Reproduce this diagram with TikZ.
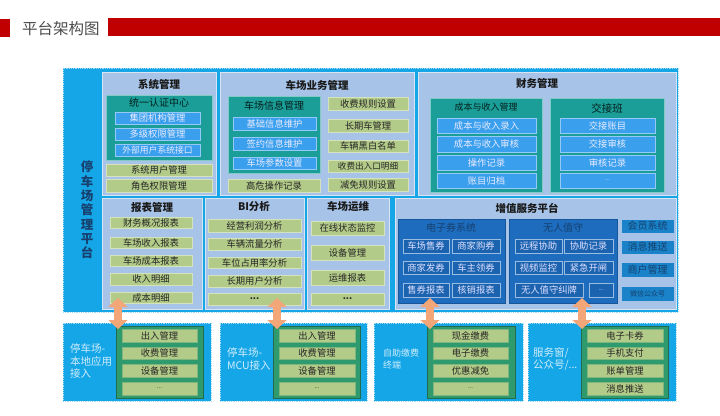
\documentclass[tikz,border=0pt]{standalone}
\usepackage{fontspec}
\setmainfont{Noto Sans CJK SC}
\usetikzlibrary{arrows.meta}
\definecolor{skyb}{HTML}{15A6E8}
\definecolor{panel}{HTML}{A7C3E7}
\definecolor{teal1}{HTML}{1B9E98}
\definecolor{bitem}{HTML}{3AA0EE}
\definecolor{gitem}{HTML}{B3CB88}
\definecolor{dblue}{HTML}{1D6CBE}
\definecolor{navy}{HTML}{17406F}
\definecolor{gteal}{HTML}{2E9A6E}
\definecolor{arr}{HTML}{F3A678}
\definecolor{redb}{HTML}{C00000}
\newcommand\bx[7]{\node[base,#2,minimum width={(#5-#3)*1pt},minimum height={(#6-#4)*1pt}] (#1) at ({(#3+#5)/2},{(#4+#6)/2}) {#7};}
\tikzset{
  base/.style={rectangle,inner sep=0pt,outer sep=0pt},
  itemfont/.style={font=\fontsize{9.3}{10}\selectfont},
  panelbox/.style={fill=panel,draw=white!55!panel,line width=0.6pt},
  ptitle/.style={base,font=\bfseries\fontsize{10.5}{12}\selectfont,text=black!90},
  ttitle/.style={base,font=\fontsize{10}{12}\selectfont,text=black!80!teal1},
  tealbox/.style={fill=teal1,draw=white!45!teal1,line width=0.6pt},
  bluebox/.style={fill=bitem,draw=white!45!bitem,line width=0.5pt,text=white!92!blue,itemfont},
  greenbox/.style={fill=gitem,draw=white!45!gitem,line width=0.5pt,text=black!85,itemfont},
  dkbox/.style={fill=dblue,draw=dblue!80!black,line width=0.5pt},
  dktitle/.style={base,font=\fontsize{10}{12}\selectfont,text=navy},
  dkbtn/.style={fill=dblue!92!black,draw=white!55!dblue,line width=0.5pt,text=white!88!blue,itemfont},
  rcol/.style={fill=dblue!85!cyan,draw=dblue!85!cyan,text=navy,font=\fontsize{10}{12}\selectfont},
  skybox/.style={fill=skyb,draw=white!60!skyb,line width=0.8pt,densely dotted},
  gcont/.style={fill=gteal,draw=gteal!70!black,line width=0.6pt},
  gitembox/.style={fill=gitem,draw=gitem!60!gteal,line width=0.6pt,text=black!85,itemfont},
  blabel/.style={base,anchor=west,align=left,text=white!80!skyb,font=\fontsize{10.5}{12.5}\selectfont},
  fatarr/.style={draw=arr,line width=8pt,{Triangle[width=19pt,length=9pt]}-{Triangle[width=19pt,length=9pt]}},
}
\begin{document}
\begin{tikzpicture}[x=1pt,y=-1pt]
\useasboundingbox (0,0) rectangle (720,415);
% header
\bx{tbar}{fill=redb}{0}{19}{10}{37}{}
\node[base,anchor=west,text=black!70,font=\fontsize{15.5}{18}\selectfont] (title) at (22,29) {平台架构图};
\bx{rbar}{fill=redb}{108}{18}{720}{36}{}
% outer frame
\bx{outer}{skybox}{63}{68}{678}{312}{}
\node[base,align=center,text=navy,font=\bfseries\fontsize{12.5}{14.3}\selectfont] (vlabel) at (87,210) {停\\车\\场\\管\\理\\平\\台};
% 系统管理
\bx{sys}{panelbox}{102}{72}{216}{195}{}
\node[ptitle] (sysT) at (159,84) {系统管理};
\bx{auth}{tealbox}{106}{95}{212}{160}{}
\node[ttitle] (authT) at (159,103) {统一认证中心};
\bx{a1}{bluebox}{115}{112}{200}{124}{集团机构管理}
\bx{a2}{bluebox}{115}{128}{200}{140}{多级权限管理}
\bx{a3}{bluebox,font=\fontsize{8.8}{10}\selectfont}{115}{144}{200}{156}{外部用户系统接口}
\bx{s1}{greenbox}{106}{164}{212}{176}{系统用户管理}
\bx{s2}{greenbox}{106}{179}{212}{192}{角色权限管理}
% 车场业务管理
\bx{biz}{panelbox}{220}{72}{414}{195}{}
\node[ptitle] (bizT) at (317,85) {车场业务管理};
\bx{info}{tealbox}{228}{96}{320}{173}{}
\node[ttitle] (infoT) at (274,106) {车场信息管理};
\bx{i1}{bluebox}{233}{117}{316}{130}{基础信息维护}
\bx{i2}{bluebox}{233}{137}{316}{150}{签约信息维护}
\bx{i3}{bluebox}{233}{157}{316}{169}{车场参数设置}
\bx{b0}{greenbox}{228}{179}{320}{192}{高危操作记录}
\bx{b1}{greenbox}{328}{97}{408}{110}{收费规则设置}
\bx{b2}{greenbox}{328}{119}{408}{132}{长期车管理}
\bx{b3}{greenbox}{328}{140}{408}{152}{车辆黑白名单}
\bx{b4}{greenbox,font=\fontsize{8.6}{10}\selectfont}{328}{160}{408}{172}{收费出入口明细}
\bx{b5}{greenbox}{328}{178}{408}{191}{减免规则设置}
% 财务管理
\bx{fin}{panelbox}{418}{72}{676}{195}{}
\node[ptitle] (finT) at (537,83) {财务管理};
\bx{cost}{tealbox}{430}{98}{542}{192}{}
\node[ttitle,font=\fontsize{9}{11}\selectfont] (costT) at (486,107) {成本与收入管理};
\bx{c1}{bluebox}{437}{118}{536}{133}{成本与收入录入}
\bx{c2}{bluebox}{437}{136}{536}{152}{成本与收入审核}
\bx{c3}{bluebox}{437}{155}{536}{170}{操作记录}
\bx{c4}{bluebox}{437}{173}{536}{188}{账目归档}
\bx{shift}{tealbox}{550}{98}{664}{192}{}
\node[ttitle,font=\fontsize{10.5}{12}\selectfont] (shiftT) at (607,108) {交接班};
\bx{h1}{bluebox}{560}{118}{655}{133}{交接账目}
\bx{h2}{bluebox}{560}{136}{655}{152}{交接审核}
\bx{h3}{bluebox}{560}{155}{655}{170}{审核记录}
\bx{h4}{bluebox,font=\fontsize{6}{7}\selectfont}{560}{173}{655}{188}{...}
% 报表管理
\bx{rep}{panelbox}{102}{198}{202}{309}{}
\node[ptitle] (repT) at (152,207) {报表管理};
\bx{r1}{greenbox}{110}{217}{192}{228}{财务概况报表}
\bx{r2}{greenbox}{110}{237}{192}{248}{车场收入报表}
\bx{r3}{greenbox}{110}{255}{192}{266}{车场成本报表}
\bx{r4}{greenbox}{110}{273}{192}{285}{收入明细}
\bx{r5}{greenbox}{110}{292}{192}{303}{成本明细}
% BI分析
\bx{bi}{panelbox}{205}{198}{304}{309}{}
\node[ptitle] (biT) at (254,207) {BI分析};
\bx{n1}{greenbox}{208}{219}{301}{232}{经营利润分析}
\bx{n2}{greenbox}{208}{238}{301}{250}{车辆流量分析}
\bx{n3}{greenbox}{208}{257}{301}{268}{车位占用率分析}
\bx{n4}{greenbox}{208}{275}{301}{287}{长期用户分析}
\bx{n5}{greenbox,font=\bfseries\fontsize{9}{10}\selectfont}{208}{293}{301}{305}{...}
% 车场运维
\bx{ops}{panelbox}{307}{198}{389}{309}{}
\node[ptitle] (opsT) at (348,207) {车场运维};
\bx{o1}{greenbox}{311}{221}{384}{235}{在线状态监控}
\bx{o2}{greenbox}{311}{245}{384}{260}{设备管理}
\bx{o3}{greenbox}{311}{270}{384}{285}{运维报表}
\bx{o4}{greenbox,font=\bfseries\fontsize{9}{10}\selectfont}{311}{293}{384}{305}{...}
% 增值服务平台
\bx{vas}{panelbox}{395}{198}{676}{309}{}
\node[ptitle] (vasT) at (527,208) {增值服务平台};
\bx{ecp}{dkbox}{398}{219}{505}{303}{}
\node[dktitle] (ecpT) at (451,228) {电子券系统};
\bx{e1}{dkbtn}{403}{239}{449}{253}{车场售券}
\bx{e2}{dkbtn}{452}{239}{500}{253}{商家购券}
\bx{e3}{dkbtn}{403}{261}{449}{274}{商家发券}
\bx{e4}{dkbtn}{452}{261}{500}{274}{车主领券}
\bx{e5}{dkbtn}{403}{283}{449}{297}{售券报表}
\bx{e6}{dkbtn}{452}{283}{500}{297}{核销报表}
\bx{una}{dkbox}{509}{219}{617}{303}{}
\node[dktitle] (unaT) at (563,228) {无人值守};
\bx{u1}{dkbtn}{515}{239}{562}{253}{远程协助}
\bx{u2}{dkbtn}{564}{239}{613}{253}{协助记录}
\bx{u3}{dkbtn}{515}{261}{562}{274}{视频监控}
\bx{u4}{dkbtn}{564}{261}{613}{274}{紧急开闸}
\bx{u5}{dkbtn}{515}{283}{583}{297}{无人值守纠牌}
\bx{u6}{dkbtn,font=\fontsize{6}{7}\selectfont}{589}{283}{613}{297}{...}
\bx{v1}{rcol}{622}{220}{673}{232}{会员系统}
\bx{v2}{rcol}{622}{241}{673}{253}{消息推送}
\bx{v3}{rcol}{622}{263}{673}{276}{商户管理}
\bx{v4}{rcol,font=\fontsize{7}{8}\selectfont}{622}{287}{673}{300}{微信公众号}
% bottom row
\bx{l1}{skybox}{63}{323}{211}{401}{}
\node[blabel] (l1T) at (70,361) {停车场-\\本地应用\\接入};
\bx{l1c}{gcont}{116}{326}{203}{398}{}
\bx{p1}{gitembox}{122}{329}{197}{342}{出入管理}
\bx{p2}{gitembox}{122}{347}{197}{359}{收费管理}
\bx{p3}{gitembox}{122}{364}{197}{377}{设备管理}
\bx{p4}{gitembox,font=\fontsize{6}{7}\selectfont}{122}{382}{197}{395}{...}
\bx{l2}{skybox}{220}{323}{367}{401}{}
\node[blabel] (l2T) at (227,359) {停车场-\\MCU接入};
\bx{l2c}{gcont}{273}{326}{360}{398}{}
\bx{q1}{gitembox}{279}{329}{355}{342}{出入管理}
\bx{q2}{gitembox}{279}{347}{355}{359}{收费管理}
\bx{q3}{gitembox}{279}{364}{355}{377}{设备管理}
\bx{q4}{gitembox,font=\fontsize{6}{7}\selectfont}{279}{382}{355}{395}{...}
\bx{l3}{skybox}{374}{323}{523}{401}{}
\node[blabel,font=\fontsize{9}{11.5}\selectfont] (l3T) at (383,359) {自助缴费\\终端};
\bx{l3c}{gcont}{427}{326}{515}{398}{}
\bx{t1}{gitembox}{433}{329}{508}{342}{现金缴费}
\bx{t2}{gitembox}{433}{347}{508}{359}{电子缴费}
\bx{t3}{gitembox}{433}{364}{508}{377}{优惠减免}
\bx{t4}{gitembox,font=\fontsize{6}{7}\selectfont}{433}{382}{508}{395}{...}
\bx{l4}{skybox}{528}{323}{676}{401}{}
\node[blabel] (l4T) at (533,359) {服务窗/\\公众号/...};
\bx{l4c}{gcont}{581}{326}{668}{398}{}
\bx{w1}{gitembox}{587}{329}{663}{342}{电子卡券}
\bx{w2}{gitembox}{587}{347}{663}{359}{手机支付}
\bx{w3}{gitembox}{587}{364}{663}{377}{账单管理}
\bx{w4}{gitembox}{587}{382}{663}{395}{消息推送}
% arrows
\coordinate (a1t) at (118,298); \coordinate (a1b) at (118,329);
\coordinate (a2t) at (277,298); \coordinate (a2b) at (277,329);
\coordinate (a3t) at (430,298); \coordinate (a3b) at (430,329);
\coordinate (a4t) at (582,298); \coordinate (a4b) at (582,329);
\draw[fatarr] (a1t) -- (a1b);
\draw[fatarr] (a2t) -- (a2b);
\draw[fatarr] (a3t) -- (a3b);
\draw[fatarr] (a4t) -- (a4b);
\end{tikzpicture}
\end{document}
